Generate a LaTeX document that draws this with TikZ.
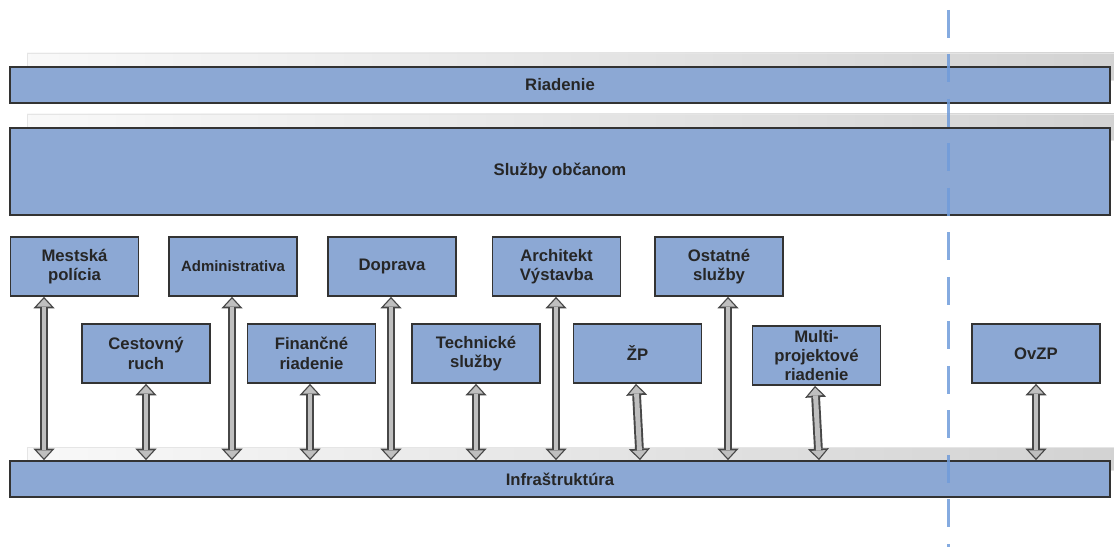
\documentclass[tikz,border=0pt]{standalone}
\usepackage{fontspec}
\setmainfont{Liberation Sans}
\usetikzlibrary{arrows.meta}
\definecolor{modra}{RGB}{140,168,212}
\definecolor{ciara}{RGB}{112,156,218}
\tikzset{
  blok/.style={draw=black!80, line width=1pt, fill=modra, align=center, text=black!85, inner sep=0pt, font=\fontsize{9.5}{11}\selectfont\bfseries},
  modul/.style={blok, minimum width=2.56cm, minimum height=1.18cm},
  pas/.style={blok, minimum width=22cm},
  tien/.style={left color=gray!5, right color=gray!35, draw=gray!20, line width=0.4pt},
  sipka/.style={draw=black!72, line width=5pt, {Triangle[length=6.5pt,width=12pt,line width=0pt]}-{Triangle[length=6.5pt,width=12pt,line width=0pt]}},
  sipkain/.style={draw=gray!50, line width=2.8pt, {Triangle[length=4.4pt,width=8.2pt,line width=0pt]}-{Triangle[length=4.4pt,width=8.2pt,line width=0pt]}, shorten <=1.1pt, shorten >=1.1pt}
}
\begin{document}
\begin{tikzpicture}[x=0.02cm,y=-0.02cm]
	\useasboundingbox (0,0) rectangle (1114,547);
	% Tiene
	\shade[tien] (27,53) rectangle (1114,80);
	\shade[tien] (27,114) rectangle (1114,140);
	\shade[tien] (27,447) rectangle (1114,470);
	% Pasy
	\node[pas, minimum height=0.72cm] (riad) at (560,85) {Riadenie};
	\node[pas, minimum height=1.74cm] (sluz) at (560,171.5) {Služby občanom};
	\node[pas, minimum height=0.72cm] (infra) at (560,479) {Infraštruktúra};
	% Horny rad
	\node[modul] (mp) at (74.5,266.5) {Mestská\\polícia};
	\node[modul, font=\fontsize{8.5}{10}\selectfont\bfseries] (adm) at (233,266.5) {Administrativa};
	\node[modul] (dop) at (392,266.5) {Doprava};
	\node[modul] (arch) at (556.5,266.5) {Architekt\\Výstavba};
	\node[modul] (ost) at (719,266.5) {Ostatné\\služby};
	% Dolny rad
	\node[modul] (cr) at (146,353.5) {Cestovný\\ruch};
	\node[modul] (fin) at (311.5,353.5) {Finančné\\riadenie};
	\node[modul] (tech) at (476,353.5) {Technické\\služby};
	\node[modul] (zp) at (637.5,353.5) {ŽP};
	\node[modul] (mpr) at (816.5,355.5) {Multi-\\projektové\\riadenie};
	\node[modul] (ovzp) at (1036,353.5) {OvZP};
	% Sipky
	\foreach \n/\a/\b in {mp/-0.61/-0.61, cr/0/0, adm/-0.02/-0.02, fin/-0.03/-0.03, dop/-0.02/-0.02, tech/0/0, arch/-0.01/-0.01, zp/-0.03/0.05, ost/0.18/0.18, mpr/-0.03/0.05, ovzp/0/0}{
		\draw[sipka] ([xshift=\a cm]\n.south) -- ([xshift=\b cm]\n.south |- infra.north);
		\draw[sipkain] ([xshift=\a cm]\n.south) -- ([xshift=\b cm]\n.south |- infra.north);
	}
	% Hranica
	\draw[ciara, opacity=0.85, line width=1.7pt, dash pattern=on 0.56cm off 0.33cm] (948.5,10) -- (948.5,547);
\end{tikzpicture}
\end{document}
